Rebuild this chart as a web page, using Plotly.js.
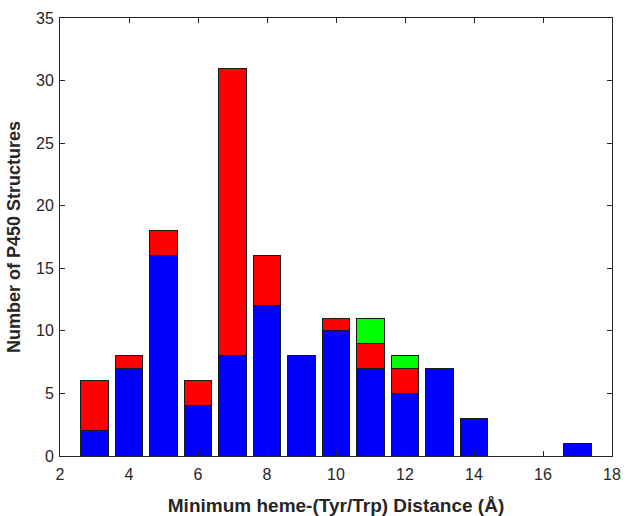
<!DOCTYPE html>
<html><head><meta charset="utf-8">
<script src="https://cdn.plot.ly/plotly-3.0.1.min.js"></script>
<style>html,body{margin:0;padding:0;background:#fff;}#plot{width:627px;height:516px;}</style>
</head><body><div id="plot"></div>
<script>
const distances = [3,4,5,6,7,8,9,10,11,12,13,14,15,16,17];
const blueCounts  = [2,7,16,4,8,12,8,10,7,5,7,3,0,0,1];
const redCounts   = [4,1,2,2,23,4,0,1,2,2,0,0,0,0,0];
const greenCounts = [0,0,0,0,0,0,0,0,2,1,0,0,0,0,0];
const xTicks = [2,4,6,8,10,12,14,16,18];
const yTicks = [0,5,10,15,20,25,30,35];

const mk = (y, color) => ({
  type:'bar', x:distances, y:y, width:0.8,
  marker:{color:color, line:{color:'#1a1a1a', width:1}},
  hoverinfo:'x+y', showlegend:false
});
const data = [mk(blueCounts,'#0000ff'), mk(redCounts,'#ff0000'), mk(greenCounts,'#00ff00')];

const FONT = 'Liberation Sans, Arial, sans-serif';
const axisCommon = {
  showgrid:false, zeroline:false, showline:true, mirror:'ticks',
  linecolor:'#262626', linewidth:1, ticks:'inside', ticklen:5, tickcolor:'#262626',
  tickfont:{family:FONT, size:16, color:'#262626'}
};
const layout = {
  width:627, height:516,
  margin:{l:60, r:15, t:18, b:60},
  paper_bgcolor:'#fff', plot_bgcolor:'#fff',
  barmode:'stack', bargap:0,
  xaxis:Object.assign({}, axisCommon, {
    range:[2,18], tickvals:xTicks, ticktext:xTicks.map(String), ticklabelstandoff:4,
    title:{text:'Minimum heme-(Tyr/Trp) Distance (Å)', standoff:20,
      font:{family:FONT, size:19, color:'#262626', weight:'bold'}}
  }),
  yaxis:Object.assign({}, axisCommon, {
    range:[0,35], tickvals:yTicks, ticktext:yTicks.map(String), ticklabelstandoff:2,
    title:{text:'Number of P450 Structures', standoff:10,
      font:{family:FONT, size:18, color:'#262626', weight:'bold'}}
  })
};
Plotly.newPlot('plot', data, layout, {displayModeBar:false, staticPlot:true});
</script></body></html>
